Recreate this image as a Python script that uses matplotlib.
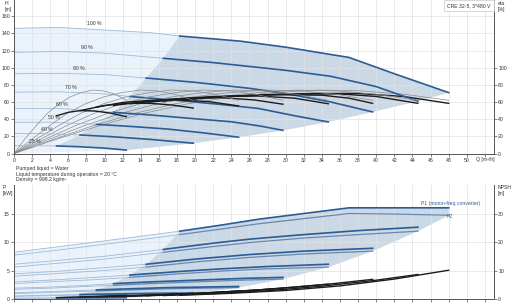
import numpy as np
import matplotlib.pyplot as plt

plt.rcParams['font.family'] = ['Liberation Sans', 'DejaVu Sans']

speeds = ['100 %', '90 %', '80 %', '70 %', '60 %', '50 %', '40 %', '25 %']
q_start = [18.3, 16.5, 14.6, 12.8, 11.0, 9.1, 7.3, 4.7]
lab_q = [8.9, 8.0, 7.2, 6.3, 5.3, 4.4, 3.6, 2.3]
lab_h = [151.5, 124, 99, 76.6, 57.5, 41.5, 28.3, 13.8]

# head curves H [m]
h_q = [
    [0, 5, 10, 15, 18.3, 25, 30, 37, 42, 48],
    [0, 5, 10, 16.5, 22, 26, 30, 35, 40, 44.6],
    [0, 5, 10, 14.6, 20, 26, 30, 35, 39.6],
    [0, 5, 10, 12.8, 18, 23, 27, 31, 34.7],
    [0, 5, 8, 11, 15, 20, 24, 27.2, 29.7],
    [0, 4, 9.1, 13, 17, 21, 24.8],
    [0, 3, 7.3, 11, 15, 19.8],
    [0, 2.5, 4.7, 7, 10, 12.4],
]
h_vals = [
    [146, 147, 144, 141, 137, 131, 124, 112, 93, 71],
    [118, 119, 117, 111, 106, 101.5, 97, 90, 78, 61],
    [93, 93.5, 92, 88, 83, 76, 70, 60, 48.5],
    [71.5, 72, 69.5, 66.5, 62, 57, 52.5, 44, 36.8],
    [52.5, 52.5, 50.5, 48, 45, 40.5, 37, 32, 27],
    [36.5, 36.5, 34, 31.5, 28.5, 24, 19],
    [23.4, 23.3, 21.6, 19.5, 16.5, 12],
    [9.1, 9.1, 8.8, 8, 6.3, 4],
]

# efficiency, thin full range curves [%]
eta_thin_q = [
    [0, 4.8, 9.6, 14.4, 19.2, 24, 28.8, 33.6, 38.4, 43.2, 48],
    [0, 4.5, 8.9, 13.4, 17.8, 22.3, 26.8, 31.2, 35.7, 40.1, 44.6],
    [0, 4, 7.9, 11.9, 15.8, 19.8, 23.8, 27.7, 31.7, 35.6, 39.6],
    [0, 3.5, 6.9, 10.4, 13.9, 17.4, 20.8, 24.3, 27.8, 31.2, 34.7],
    [0, 3, 5.9, 8.9, 11.9, 14.9, 17.8, 20.8, 23.8, 26.7, 29.7],
    [0, 2.5, 5, 7.4, 9.9, 12.4, 14.9, 17.4, 19.8, 22.3, 24.8],
    [0, 2, 4, 5.9, 7.9, 9.9, 11.9, 13.9, 15.8, 17.8, 19.8],
    [0, 1.2, 2.5, 3.7, 5, 6.2, 7.4, 8.7, 9.9, 11.2, 12.4],
]
eta_thin = [0, 17, 33, 47, 58, 66, 71, 74, 73, 69, 62]

# efficiency inside operating range [%]
eta_q = [
    [18.3, 23, 28, 33, 38, 43, 48],
    [16.5, 21, 26, 31, 36, 40, 44.6],
    [14.6, 19, 24, 29, 34, 37, 39.6],
    [12.8, 17, 22, 27, 31, 34.7],
    [11, 15, 19, 23, 26.5, 29.7],
    [9.1, 12, 15, 18, 21.5, 24.8],
    [7.3, 10, 12.5, 15, 17.5, 19.8],
    [4.7, 6, 7.3, 9, 10.7, 12.4],
]
eta_vals = [
    [62, 66, 68.5, 70, 70, 66.5, 58.5],
    [61, 65, 68, 69.5, 69.5, 66.5, 58.5],
    [59.5, 64, 67, 68.5, 68, 64.5, 58.5],
    [58, 63, 66.5, 67, 64.5, 58],
    [56, 61.5, 64.5, 65, 62.5, 57.5],
    [54, 59.5, 62, 62.5, 60.5, 55.5],
    [50, 56, 58.5, 58.5, 56.5, 53],
    [44, 48, 50, 49.5, 47, 43],
]

# power curves [kW]
p_q = [
    [0, 5, 10, 18.3, 23, 27, 32, 37, 42, 48],
    [0, 5, 10, 16.5, 22, 26, 32, 38, 44.6],
    [0, 5, 10, 14.6, 20, 26, 32, 39.6],
    [0, 5, 9, 12.8, 18, 23, 28, 34.7],
    [0, 4, 8, 11, 15, 20, 25, 29.7],
    [0, 4, 9.1, 13, 17, 21, 24.8],
    [0, 3, 7.3, 11, 15, 19.8],
    [0, 2.5, 4.7, 8, 12.4],
]
p1_vals = [
    [8.2, 9.2, 10.2, 11.9, 13.0, 14.0, 15.0, 16.0, 16.0, 16.0],
    [6.1, 6.8, 7.5, 8.7, 9.8, 10.5, 11.3, 12.0, 12.6],
    [4.4, 4.9, 5.5, 6.1, 7.0, 7.8, 8.4, 8.9],
    [3.0, 3.4, 3.8, 4.2, 4.8, 5.3, 5.7, 6.1],
    [1.9, 2.1, 2.4, 2.7, 3.0, 3.3, 3.6, 3.8],
    [1.1, 1.3, 1.6, 1.8, 2.0, 2.1, 2.2],
    [0.55, 0.65, 0.8, 0.9, 1.0, 1.05],
    [0.15, 0.18, 0.2, 0.23, 0.26],
]
p2_vals = [
    [7.7, 8.6, 9.6, 11.3, 12.3, 13.2, 14.1, 15.0, 14.9, 14.7],
    [5.6, 6.3, 7.0, 8.2, 9.2, 9.9, 10.7, 11.3, 11.9],
    [4.0, 4.5, 5.0, 5.6, 6.5, 7.3, 7.9, 8.4],
    [2.7, 3.1, 3.4, 3.8, 4.4, 4.9, 5.3, 5.6],
    [1.7, 1.9, 2.2, 2.4, 2.7, 3.0, 3.3, 3.5],
    [0.95, 1.15, 1.4, 1.6, 1.8, 1.9, 2.0],
    [0.45, 0.55, 0.7, 0.8, 0.88, 0.95],
    [0.1, 0.13, 0.15, 0.17, 0.2],
]

# NPSH curves [m]
npsh_q = [
    [18.3, 24, 30, 36, 42, 48],
    [16.5, 22, 28, 34, 40, 44.6],
    [14.6, 20, 25, 30, 35, 39.6],
    [12.8, 17, 22, 27, 31, 34.7],
    [11, 15, 19, 23, 26.5, 29.7],
    [9.1, 12, 15, 18, 21.5, 24.8],
    [7.3, 10, 12.5, 15, 17.5, 19.8],
    [4.7, 7, 9, 10.7, 12.4],
]
npsh_vals = [
    [1.3, 2.0, 3.0, 4.6, 7.0, 10.1],
    [1.2, 1.9, 2.9, 4.5, 6.6, 8.6],
    [1.1, 1.8, 2.7, 3.9, 5.3, 6.9],
    [1.0, 1.5, 2.2, 3.2, 4.2, 5.2],
    [0.9, 1.3, 1.8, 2.5, 3.1, 3.7],
    [0.8, 1.0, 1.3, 1.7, 2.2, 2.8],
    [0.7, 0.9, 1.1, 1.4, 1.7, 2.0],
    [0.5, 0.7, 0.9, 1.1, 1.3],
]

dark_blue = '#2b5d94'
mid_blue = '#6788b0'
thin_blue = '#9fbad6'
light_fill = '#eaf3fc'
grey_fill = '#cbd8e6'
grid_c = '#e2e2e2'
spine_c = '#555555'
txt_c = '#333333'
fs = 3.7


def split(q, v, qs):
    q = np.array(q, dtype=float)
    v = np.array(v, dtype=float)
    return (q[q <= qs], v[q <= qs]), (q[q >= qs], v[q >= qs])


def style(ax, yticks):
    ax.set_xlim(0, 53)
    ax.set_xticks(np.arange(0, 54, 2))
    ax.grid(True, color=grid_c, lw=0.5)
    ax.set_yticks(yticks)
    ax.tick_params(labelsize=fs, length=2, width=0.5, pad=1,
                   colors=spine_c, labelcolor=txt_c)
    ax.spines['top'].set_visible(False)
    for s in ['left', 'right', 'bottom']:
        ax.spines[s].set_color(spine_c)
        ax.spines[s].set_linewidth(0.6)


def style_twin(ax, lim, ticks):
    ax.set_ylim(*lim)
    ax.set_yticks(ticks)
    ax.tick_params(labelsize=fs, length=2, width=0.5, pad=1,
                   colors=spine_c, labelcolor=txt_c)
    ax.spines['top'].set_visible(False)
    for s in ['left', 'right', 'bottom']:
        ax.spines[s].set_color(spine_c)
        ax.spines[s].set_linewidth(0.6)


fig = plt.figure(figsize=(5.12, 3.08), dpi=100)

# ---------- top chart: head and efficiency ----------
ax = fig.add_axes([0.0273, 0.5016, 0.9375, 0.4984])
style(ax, [0, 20, 40, 60, 80, 100, 120, 140, 160])
ax.set_ylim(0, 179)
ax.set_xticklabels([str(v) if v <= 50 else '' for v in range(0, 54, 2)])

# operating range fills
top_q = list(h_q[0])
top_h = list(h_vals[0])
end_q = [q[-1] for q in h_q]
end_h = [h[-1] for h in h_vals]
ax.fill(top_q + end_q[1:] + [0], top_h + end_h[1:] + [0],
        color=light_fill, lw=0, zorder=0.5)

(_, _), (tq, th) = split(h_q[0], h_vals[0], q_start[0])
(_, _), (bq, bh) = split(h_q[-1], h_vals[-1], q_start[-1])
start_h = [np.interp(qs, q, h) for qs, q, h in zip(q_start, h_q, h_vals)]
poly_q = list(tq) + end_q[1:] + list(bq[::-1]) + q_start[::-1]
poly_h = list(th) + end_h[1:] + list(bh[::-1]) + start_h[::-1]
ax.fill(poly_q, poly_h, color=grey_fill, lw=0, zorder=0.6)

for i in range(len(speeds)):
    (lq, lh), (rq, rh) = split(h_q[i], h_vals[i], q_start[i])
    ax.plot(lq, lh, color=thin_blue, lw=0.6)
    ax.plot(rq, rh, color=dark_blue, lw=1.2)
    ax.text(lab_q[i], lab_h[i], speeds[i], fontsize=fs, color=txt_c,
            ha='center', va='center')
    ax.plot(eta_thin_q[i], eta_thin, color='#8c8c8c', lw=0.5)
    ax.plot(eta_q[i], eta_vals[i], color='#1c1c1c', lw=1.0)

ax.text(51.0, -0.025, 'Q [m³/h]', transform=ax.get_xaxis_transform(),
        fontsize=fs, color=txt_c, ha='left', va='top')

ax_eta = ax.twinx()
style_twin(ax_eta, (0, 179), [0, 20, 40, 60, 80, 100])

fig.text(0.009, 0.998, 'H\n[m]', fontsize=fs, color=txt_c, va='top', ha='left',
         linespacing=1.3)
fig.text(0.972, 0.998, 'eta\n[%]', fontsize=fs, color=txt_c, va='top', ha='left',
         linespacing=1.3)
fig.text(0.958, 0.990, 'CRE 32-5, 3*480 V', fontsize=fs, color=txt_c,
         ha='right', va='top',
         bbox=dict(boxstyle='square,pad=0.6', fc='white', ec='#c8c8c8', lw=0.5))

fig.text(0.031, 0.4536, 'Pumped liquid = Water', fontsize=fs, color=txt_c, va='center')
fig.text(0.031, 0.435, 'Liquid temperature during operation = 20 °C', fontsize=fs,
         color=txt_c, va='center')
fig.text(0.031, 0.416, 'Density = 998.2 kg/m³', fontsize=fs, color=txt_c, va='center')

# ---------- bottom chart: power and NPSH ----------
bx = fig.add_axes([0.0273, 0.0292, 0.9375, 0.3701])
style(bx, [0, 5, 10, 15])
bx.set_ylim(0, 20)
bx.tick_params(axis='x', labelbottom=False)

p_end_q = [q[-1] for q in p_q]
p2_end = [p[-1] for p in p2_vals]
bx.fill(list(p_q[0]) + p_end_q + [0], list(p1_vals[0]) + p2_end + [0],
        color=light_fill, lw=0, zorder=0.5)
(_, _), (tq, tp) = split(p_q[0], p1_vals[0], q_start[0])
p1_start = [np.interp(qs, q, p) for qs, q, p in zip(q_start, p_q, p1_vals)]
bx.fill(list(tq) + p_end_q + [q_start[-1]] + q_start[::-1],
        list(tp) + p2_end + [0.05] + p1_start[::-1],
        color=grey_fill, lw=0, zorder=0.6)

for i in range(len(speeds)):
    (lq, l1), (rq, r1) = split(p_q[i], p1_vals[i], q_start[i])
    (_, l2), (_, r2) = split(p_q[i], p2_vals[i], q_start[i])
    bx.plot(lq, l1, color=thin_blue, lw=0.6)
    bx.plot(lq, l2, color=thin_blue, lw=0.6)
    bx.plot(rq, r2, color=mid_blue, lw=0.9)
    bx.plot(rq, r1, color=dark_blue, lw=1.2)

bx.text(44.9, 16.7, 'P1 (motor+freq converter)', fontsize=fs, color=dark_blue,
        ha='left', va='center')
bx.text(47.8, 14.4, 'P2', fontsize=fs, color=dark_blue, ha='left', va='center')

bx_n = bx.twinx()
style_twin(bx_n, (0, 40), [0, 10, 20, 30])
for i in range(len(speeds)):
    bx_n.plot(npsh_q[i], npsh_vals[i], color='#1c1c1c', lw=1.0)

fig.text(0.005, 0.399, 'P\n[kW]', fontsize=fs, color=txt_c, va='top', ha='left',
         linespacing=1.3)
fig.text(0.972, 0.399, 'NPSH\n[m]', fontsize=fs, color=txt_c, va='top', ha='left',
         linespacing=1.3)

fig.savefig('out.png', dpi=100)
